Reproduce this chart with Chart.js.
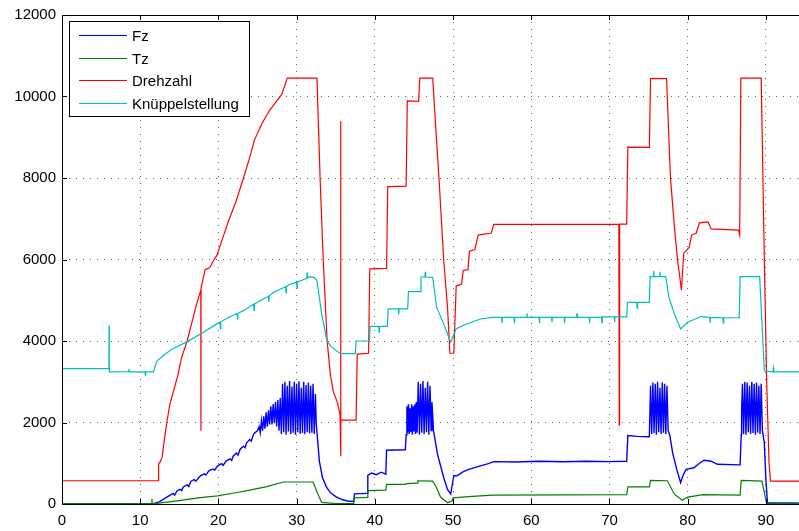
<!DOCTYPE html>
<html>
<head>
<meta charset="utf-8">
<script src="https://cdn.jsdelivr.net/npm/chart.js@4/dist/chart.umd.min.js"></script>
<style>
  html, body { margin: 0; padding: 0; background: #fff; overflow: hidden; }
  #wrap { width: 810px; height: 531px; }
</style>
</head>
<body>
<div id="wrap"><canvas id="plot" width="810" height="531"></canvas></div>
<script>
// Messdaten: [Zeit, Wert]
const seriesNames = ['Fz', 'Tz', 'Drehzahl', 'Knüppelstellung'];
const seriesColors = ['#0000ff', '#008000', '#ff0000', '#00bfbf'];

const fz = [
  [0, 10], [11.7, 10], [12.5, 60], [13.5, 180], [14.2, 260], [14.4, 220], [14.7, 320], [15.1, 360],
  [15.3, 330], [15.5, 420], [16.0, 470], [16.2, 430], [16.5, 560], [16.9, 600], [17.1, 560],
  [17.7, 690], [18.2, 740], [18.4, 710], [18.8, 820], [19.3, 860], [19.5, 830], [19.9, 935],
  [20.4, 990], [20.6, 950], [21.0, 1060], [21.5, 1110], [21.7, 1070], [21.9, 1180], [22.3, 1250],
  [22.5, 1200], [22.8, 1350], [23.2, 1420], [23.4, 1380], [23.6, 1500], [24.0, 1580], [24.2, 1540],
  [24.5, 1720],
  [25.0, 1800], [25.2, 1900], [25.35, 1750], [25.5, 2050], [25.65, 1800], [25.8, 2150], [25.95, 1850],
  [26.1, 2250], [26.25, 1900], [26.4, 2300], [26.55, 1950], [26.7, 2400], [26.85, 1950], [27.0, 2450],
  [27.15, 1980], [27.3, 2500], [27.45, 1900], [27.6, 2550], [27.75, 1800], [27.9, 2600],
  [28.05, 1720], [28.2, 2950], [28.35, 1760], [28.5, 3000], [28.65, 1700], [28.8, 2900], [28.95, 1780],
  [29.1, 3020], [29.25, 1720], [29.4, 2880], [29.55, 1750], [29.7, 3000], [29.85, 1700], [30.0, 2950],
  [30.15, 1760], [30.3, 3010], [30.45, 1720], [30.6, 2850], [30.75, 1740], [30.9, 3000], [31.05, 1710],
  [31.2, 2920], [31.35, 1760], [31.5, 2980], [31.65, 1730], [31.8, 2900], [31.95, 1750], [32.1, 2950],
  [32.25, 1720], [32.4, 2700],
  [32.5, 2000], [32.9, 1060], [33.3, 650], [33.8, 420], [34.3, 280], [35.0, 180], [35.8, 110],
  [36.5, 75], [37.3, 60], [37.4, 250], [39.0, 260], [39.1, 700], [39.6, 760], [40.2, 720], [40.8, 780],
  [41.4, 730], [41.5, 1320], [43.9, 1330],
  [44.0, 1700], [44.1, 2400], [44.2, 1750], [44.3, 2450], [44.4, 1720], [44.5, 2350], [44.6, 1760],
  [44.7, 2450], [44.8, 1700], [44.9, 2400], [45.0, 1780], [45.1, 2450], [45.2, 1720], [45.3, 2500],
  [45.4, 1750], [45.55, 3000], [45.7, 1700], [45.85, 2950], [46.0, 1750], [46.15, 3020], [46.3, 1720],
  [46.45, 2850], [46.6, 1760], [46.75, 3000], [46.9, 1700], [47.05, 2900], [47.2, 1800], [47.3, 2500],
  [47.5, 1800], [48.0, 1230], [48.8, 650], [49.3, 350], [49.7, 245], [50.1, 700], [50.5, 690],
  [51.2, 780], [52.0, 850], [53.5, 935], [54.5, 990], [55.2, 1040], [58, 1030], [61, 1050],
  [64, 1035], [67, 1050], [70, 1040], [72.2, 1050],
  [72.35, 1680], [73.5, 1660], [75.1, 1650],
  [75.25, 2900], [75.4, 1720], [75.55, 2980], [75.7, 1740], [75.85, 2950], [76.0, 1700], [76.15, 3000],
  [76.3, 1760], [76.45, 2850], [76.6, 1720], [76.75, 2980], [76.9, 1750], [77.05, 2950], [77.2, 1720],
  [77.35, 2900], [77.5, 1800],
  [77.7, 1700], [78.1, 1230], [78.6, 850], [79.1, 525], [79.4, 700], [79.8, 850], [80.8, 890],
  [81.5, 1000], [82.1, 1075], [83.0, 1050], [83.8, 975], [86.7, 960],
  [86.85, 1700], [86.9, 2300], [87.0, 2950], [87.15, 1720], [87.3, 3000], [87.45, 1700], [87.6, 2980],
  [87.75, 1760], [87.9, 2900], [88.05, 1720], [88.2, 3000], [88.35, 1740], [88.5, 2950], [88.65, 1700],
  [88.8, 2980], [88.95, 1750], [89.1, 2900], [89.25, 1720], [89.4, 2950], [89.55, 1800],
  [89.8, 1500], [90.0, 600], [90.2, 30], [95, 20]
];

const tz = [
  [0, 10], [11.45, 10], [11.5, 130], [11.55, 10], [12.1, 15], [14, 60], [17.7, 155], [19.9, 200],
  [22, 270], [24, 340], [26.2, 425], [28.3, 540], [32.1, 540], [32.6, 300], [33.2, 40], [35, 10],
  [37.3, 10], [37.4, 150], [39.0, 160], [39.1, 330], [41.4, 340], [41.5, 480], [43.9, 480],
  [44.0, 500], [45.4, 510], [45.5, 570], [47.4, 560], [47.9, 400], [48.4, 170], [49.3, 30],
  [49.9, 80], [50.0, 150], [52, 180], [55, 220], [72.2, 230], [72.35, 420], [75.1, 420],
  [75.25, 580], [77.4, 570], [78.3, 240], [79.3, 90], [80, 170], [82, 230], [86.7, 220],
  [86.85, 580], [89.5, 560], [89.9, 200], [90.1, 10], [95, 10]
];

const drehzahl = [
  [0, 570], [12.3, 570], [12.35, 980], [12.6, 1050], [12.8, 1150], [13.1, 1600], [13.4, 2000],
  [13.8, 2450], [14.3, 2800], [14.8, 3150], [15.3, 3600], [16.0, 4000], [16.6, 4450], [17.2, 4900],
  [17.75, 5250], [17.76, 1800], [17.78, 5300], [18.3, 5750], [18.9, 5800], [19.3, 5950], [19.8, 6100],
  [20.5, 6500], [21.3, 6950], [22.2, 7400], [23.2, 8000], [24.0, 8500], [24.6, 8930], [25.6, 9350],
  [26.5, 9650], [27.3, 9850], [28.1, 10050], [28.8, 10450], [32.6, 10450], [33.0, 8000], [33.4, 6000],
  [33.9, 4000], [34.3, 3200], [34.7, 2750], [35.2, 2500], [35.55, 2200], [35.62, 2100], [35.63, 9400],
  [35.65, 1170], [35.67, 2060], [37.6, 2060], [37.75, 3680], [39.2, 3700], [39.35, 5770], [41.5, 5780],
  [41.65, 7790], [44.0, 7800], [44.15, 9890], [45.6, 9880], [45.75, 10450], [47.4, 10450], [47.8, 9200],
  [48.2, 8000], [48.8, 6000], [49.3, 4800], [49.6, 3700], [50.1, 3700], [50.4, 5350], [51.1, 5400],
  [51.3, 5730], [51.9, 5750], [52.1, 6200], [52.8, 6250], [53.2, 6600], [54.9, 6650], [55.2, 6860],
  [71.2, 6870], [71.25, 1940], [71.3, 6870], [72.2, 6870], [72.35, 8760], [75.1, 8750], [75.25, 10440],
  [77.3, 10440], [77.8, 8000], [78.3, 6800], [78.7, 6000], [79.2, 5250], [79.5, 6150], [80.2, 6300],
  [80.5, 6600], [81.1, 6650], [81.5, 6900], [82.6, 6920], [83.0, 6750], [86.5, 6720], [86.65, 6600],
  [86.8, 10450], [89.4, 10450], [89.8, 6000], [90.1, 3000], [90.4, 1000], [90.6, 560], [95, 560]
];

const knueppel = [
  [0, 3320], [6.0, 3320], [6.02, 4380], [6.05, 3240], [8.5, 3250], [8.55, 3320], [8.6, 3240],
  [10.6, 3240], [10.65, 3160], [10.7, 3240], [11.7, 3240], [12.1, 3500], [13, 3650], [14, 3790],
  [16.0, 3985], [18, 4200], [19.8, 4420], [20.2, 4460], [20.25, 4300], [20.3, 4470], [21.5, 4600],
  [22.4, 4670], [22.45, 4520], [22.5, 4680], [23.2, 4745], [24.5, 4900], [24.55, 4750], [24.6, 4910],
  [25, 4950], [26.4, 5100], [26.45, 4960], [26.5, 5110], [27.1, 5200], [28.6, 5330], [28.65, 5180],
  [28.7, 5340], [29, 5380], [30.0, 5440], [30.05, 5300], [30.1, 5450], [30.5, 5480], [31.3, 5540],
  [31.35, 5680], [31.4, 5550], [31.75, 5580], [32.3, 5550], [32.6, 5480], [33.2, 4665], [33.9, 3985],
  [34.5, 3850], [35.6, 3690], [37.5, 3690], [37.6, 4000], [39.3, 4000], [39.4, 4360], [40.5, 4360],
  [40.55, 4220], [40.6, 4360], [41.6, 4360], [41.7, 4790], [43.0, 4790], [43.05, 4650], [43.1, 4790],
  [44.2, 4790], [44.3, 5210], [45.8, 5210], [45.9, 5570], [46.4, 5570], [46.45, 5700], [46.5, 5570],
  [47.4, 5560], [47.9, 4830], [48.8, 4420], [49.7, 3970], [50.4, 4300], [51.5, 4400], [53.5, 4540],
  [55, 4580], [56.2, 4580], [56.25, 4440], [56.3, 4580], [57.8, 4580], [57.85, 4440], [57.9, 4580],
  [59.4, 4580], [59.45, 4680], [59.5, 4580], [61.0, 4580], [61.05, 4440], [61.1, 4580], [62.6, 4580],
  [62.65, 4460], [62.7, 4580], [64.2, 4580], [64.25, 4440], [64.3, 4580], [65.8, 4580], [65.85, 4680],
  [65.9, 4580], [67.4, 4580], [67.45, 4440], [67.5, 4580], [69.0, 4580], [69.05, 4450], [69.1, 4590],
  [70.6, 4590], [70.65, 4460], [70.7, 4590], [72.2, 4590], [72.3, 4950], [73.5, 4950], [73.55, 4800],
  [73.6, 4950], [75.1, 4950], [75.2, 5580], [75.6, 5580], [75.65, 5720], [75.7, 5580], [76.4, 5580],
  [76.45, 5700], [76.5, 5580], [77.2, 5580], [77.6, 5070], [78.3, 4665], [79.1, 4295], [80, 4460],
  [81.7, 4600], [82.8, 4580], [82.85, 4440], [82.9, 4580], [84.5, 4570], [84.55, 4440], [84.6, 4570],
  [86.6, 4570], [86.7, 5580], [89.2, 5580], [89.8, 3270], [90.9, 3240], [90.95, 3330], [91.0, 3240],
  [95, 3240]
];

// Achsen
const xMin = 0, xMax = 95, xStep = 10;
const yMin = 0, yMax = 12000, yStep = 2000;

const FONT = "'Liberation Sans', Arial, Helvetica, sans-serif";

const toPoints = arr => arr.map(p => ({ x: p[0], y: p[1] }));
const allSeries = [fz, tz, drehzahl, knueppel];

// Rahmen mit nach innen zeigenden Ticks (oben, unten, links, rechts)
const framePlugin = {
  id: 'frame',
  afterDatasetsDraw(chart) {
    const { ctx, chartArea: a, scales } = chart;
    ctx.save();
    ctx.strokeStyle = '#000';
    ctx.lineWidth = 1;
    ctx.beginPath();
    ctx.rect(Math.round(a.left) + 0.5, Math.round(a.top) + 0.5, Math.round(a.right - a.left), Math.round(a.bottom - a.top));
    ctx.stroke();
    const len = 5;
    ctx.beginPath();
    scales.x.ticks.forEach(t => {
      const px = Math.round(scales.x.getPixelForValue(t.value)) + 0.5;
      ctx.moveTo(px, a.bottom); ctx.lineTo(px, a.bottom - len);
      ctx.moveTo(px, a.top); ctx.lineTo(px, a.top + len);
    });
    scales.y.ticks.forEach(t => {
      const py = Math.round(scales.y.getPixelForValue(t.value)) + 0.5;
      ctx.moveTo(a.left, py); ctx.lineTo(a.left + len, py);
      ctx.moveTo(a.right, py); ctx.lineTo(a.right - len, py);
    });
    ctx.stroke();
    ctx.restore();
  }
};

// Legende oben links im Diagramm
const legendPlugin = {
  id: 'boxLegend',
  afterDraw(chart) {
    const { ctx } = chart;
    const bx = 69.5, by = 21.5, bw = 180, bh = 95;
    ctx.save();
    ctx.fillStyle = '#fff';
    ctx.fillRect(bx, by, bw, bh);
    ctx.strokeStyle = '#000';
    ctx.lineWidth = 1;
    ctx.strokeRect(bx, by, bw, bh);
    ctx.font = '15px ' + FONT;
    ctx.textBaseline = 'middle';
    ctx.fillStyle = '#000';
    chart.data.datasets.forEach((ds, i) => {
      const y = Math.round(35 + i * 22.6) + 0.5;
      ctx.strokeStyle = ds.borderColor;
      ctx.beginPath();
      ctx.moveTo(79, y); ctx.lineTo(127, y);
      ctx.stroke();
      ctx.fillText(ds.label, 132, y + 1);
    });
    ctx.restore();
  }
};

new Chart(document.getElementById('plot').getContext('2d'), {
  type: 'line',
  data: {
    datasets: allSeries.map((s, i) => ({
      label: seriesNames[i],
      data: toPoints(s),
      borderColor: seriesColors[i],
      backgroundColor: seriesColors[i],
      borderWidth: i === 0 ? 1.4 : 1.2,
      pointRadius: 0,
      tension: 0,
      order: 3 - i
    }))
  },
  options: {
    responsive: false,
    animation: false,
    events: [],
    layout: { padding: { top: 15, right: 5, left: 0, bottom: 0 } },
    plugins: { legend: { display: false }, tooltip: { enabled: false } },
    scales: {
      x: {
        type: 'linear',
        min: xMin, max: xMax,
        afterFit: s => { s.height = 27; },
        ticks: { stepSize: xStep, includeBounds: false, color: '#000', padding: 8, maxRotation: 0,
                 font: { family: FONT, size: 15 }, callback: v => String(v) },
        grid: { color: '#666', lineWidth: 1, drawTicks: false },
        border: { display: false, dash: [1, 6] }
      },
      y: {
        type: 'linear',
        min: yMin, max: yMax,
        afterFit: s => { s.width = 62; },
        ticks: { stepSize: yStep, color: '#000', padding: 6, font: { family: FONT, size: 15 },
                 callback: v => String(v) },
        grid: { color: '#666', lineWidth: 1, drawTicks: false },
        border: { display: false, dash: [1, 6] }
      }
    }
  },
  plugins: [framePlugin, legendPlugin]
});
</script>
</body>
</html>
